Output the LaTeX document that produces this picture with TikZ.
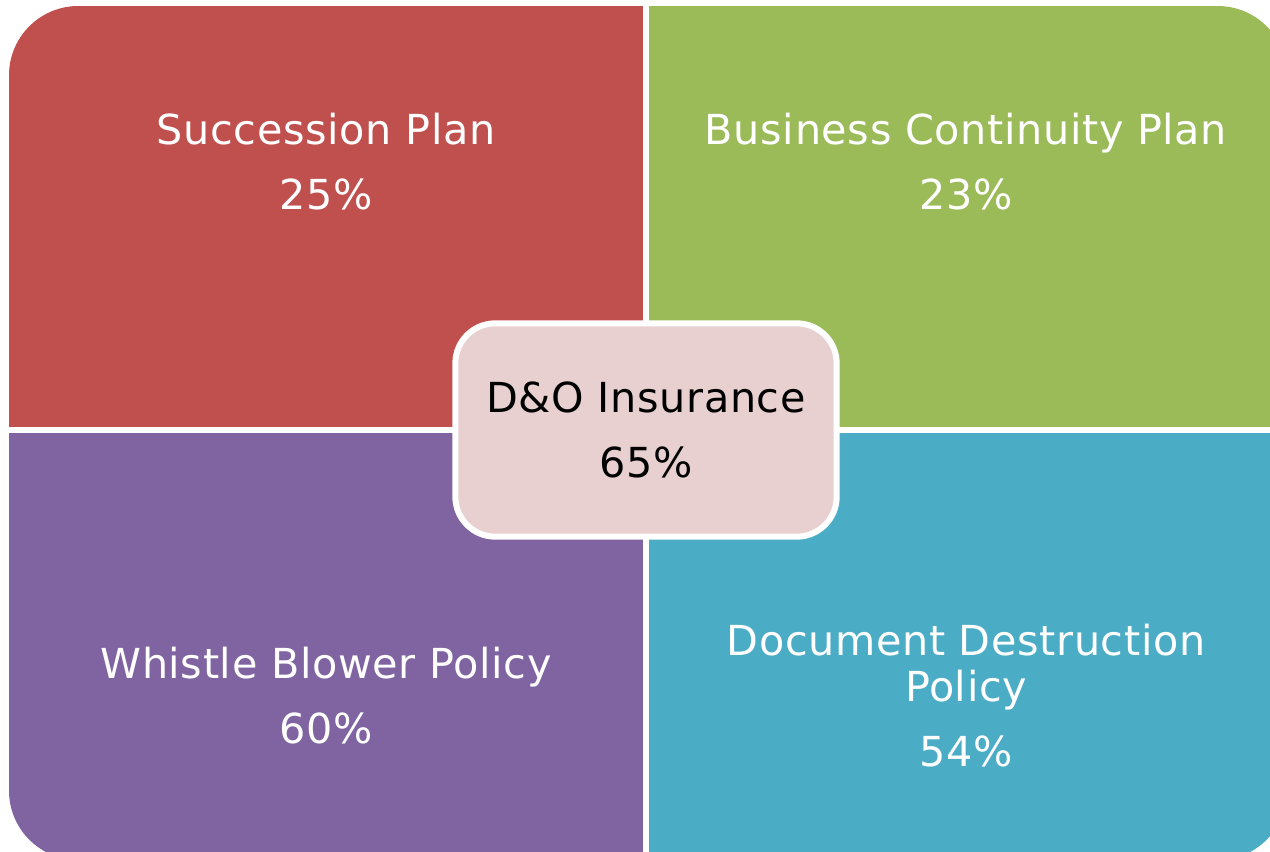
\documentclass[tikz,border=0pt]{standalone}
\usepackage{fontspec}
\setmainfont{DejaVu Sans}[LetterSpace=1.5]
\definecolor{succred}{HTML}{C0504D}
\definecolor{contgreen}{HTML}{9BBB59}
\definecolor{whistlepurple}{HTML}{8064A2}
\definecolor{docblue}{HTML}{4BACC6}
\definecolor{centrepink}{HTML}{E8D0D1}
\begin{document}
\begin{tikzpicture}[x=0.75pt,y=-0.75pt,
	quad text/.style={text=white,align=center,font={\fontsize{31}{48.75}\selectfont}}]
		\useasboundingbox (0,0) rectangle (1270,852);
		
		% quadrants
		\begin{scope}
		\clip[rounded corners=52pt] (9,6) rectangle (1287,860);
		\fill[succred] (9,6) rectangle (643,427);
		\fill[contgreen] (649,6) rectangle (1287,427);
		\fill[whistlepurple] (9,433) rectangle (643,860);
		\fill[docblue] (649,433) rectangle (1287,860);
		\end{scope}
		
		% labels
		\node[quad text] (succ) at (326,162) {Succession Plan\\25\%};
		\node[quad text] (cont) at (966,162) {Business Continuity Plan\\23\%};
		\node[quad text] (whistle) at (326,696) {Whistle Blower Policy\\60\%};
		\node[quad text] (docs) at (966,696) {Document Destruction\\[-14.25pt]Policy\\54\%};
		
		% centre box
		\node[quad text,text=black,draw=white,line width=4.5pt,fill=centrepink,
		rounded corners=30pt,minimum width=286pt,minimum height=160pt]
		(dando) at (646,430) {D\&O Insurance\\65\%};
	\end{tikzpicture}
\end{document}
